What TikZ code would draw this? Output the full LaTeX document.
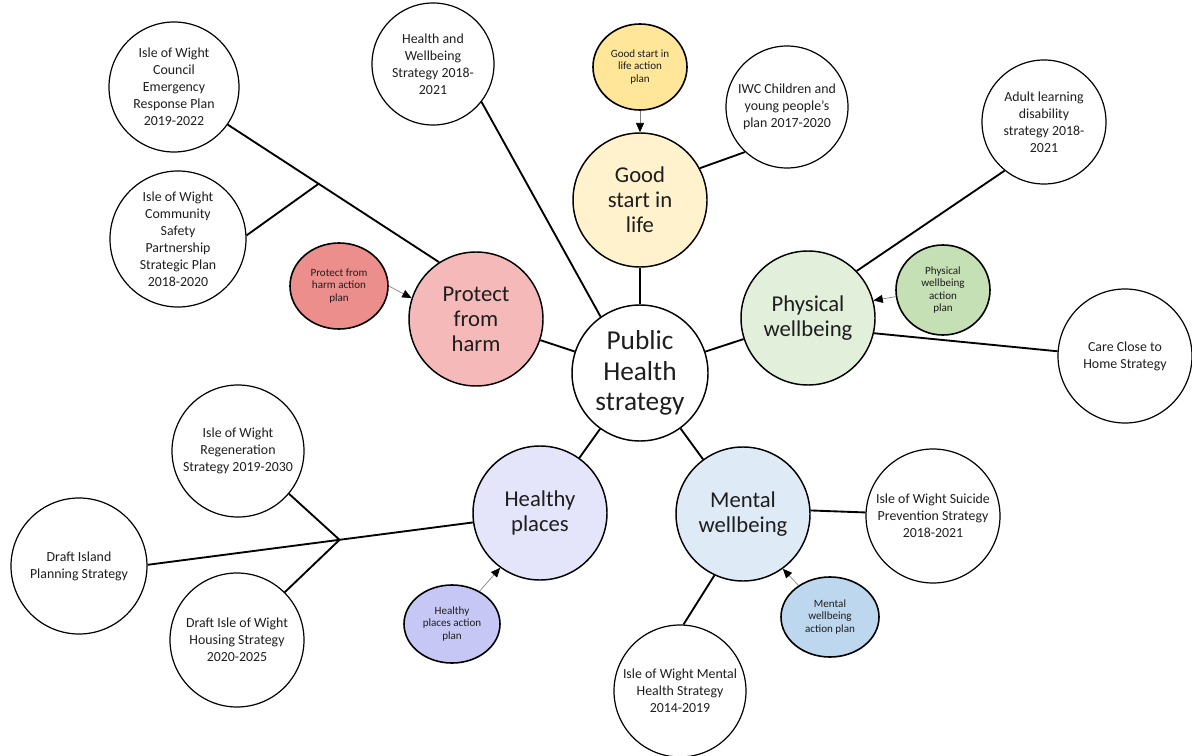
\documentclass[tikz,border=0pt]{standalone}
\usepackage{fontspec}
\setmainfont{Carlito}
\usetikzlibrary{shapes.geometric,arrows.meta,calc}

\definecolor{startfill}{RGB}{255,242,204}
\definecolor{startplan}{RGB}{255,230,153}
\definecolor{harmfill}{RGB}{244,185,184}
\definecolor{harmplan}{RGB}{236,143,140}
\definecolor{physfill}{RGB}{226,239,218}
\definecolor{physplan}{RGB}{197,224,180}
\definecolor{placefill}{RGB}{228,228,251}
\definecolor{placeplan}{RGB}{199,199,245}
\definecolor{mentfill}{RGB}{222,235,247}
\definecolor{mentplan}{RGB}{189,215,238}
\definecolor{inktext}{RGB}{30,30,30}

\begin{document}
\begin{tikzpicture}[x=0.75pt,y=0.75pt,yscale=-1,xscale=1,
  every node/.style={align=center,inner sep=0pt,text=inktext},
  hub/.style={circle,draw,line width=1.1pt,minimum size=102pt,font=\fontsize{20.5}{23}\selectfont},
  theme/.style={circle,draw,line width=1.1pt,minimum size=100.5pt,font=\fontsize{17}{18.8}\selectfont},
  doc/.style={circle,draw,line width=0.9pt,font=\fontsize{10.4}{12.8}\selectfont},
  plan/.style={ellipse,draw,line width=1.2pt,font=\fontsize{8.3}{9.4}\selectfont},
  link/.style={line width=1.4pt},
  feed/.style={draw=gray,line width=0.5pt,-{Triangle[length=7pt,width=6pt,color=black]}}]
\useasboundingbox (0,0) rectangle (1192,756);

% Centre and themes
\node[hub] (phs) at (640,373) {Public\\Health\\strategy};
\node[theme,fill=startfill] (start) at (640,200) {Good\\start in\\life};
\node[theme,fill=harmfill] (harm) at (476,319) {Protect\\from\\harm};
\node[theme,fill=physfill] (phys) at (808,318) {Physical\\wellbeing};
\node[theme,fill=placefill] (places) at (540,513) {Healthy\\places};
\node[theme,fill=mentfill] (mental) at (743,514) {Mental\\wellbeing};

% Action plans
\node[plan,fill=startplan,minimum width=70.5pt,minimum height=64.5pt] (startplan) at (640,67) {Good start in\\life action\\plan};
\node[plan,fill=harmplan,minimum width=73.5pt,minimum height=64.5pt] (harmplan) at (339,286) {Protect from\\harm action\\plan};
\node[plan,fill=physplan,minimum width=70.5pt,minimum height=67.5pt] (physplan) at (943,290) {Physical\\wellbeing\\action\\plan};
\node[plan,fill=placeplan,minimum width=72pt,minimum height=58.5pt] (placeplan) at (452,624) {Healthy\\places action\\plan};
\node[plan,fill=mentplan,minimum width=73.5pt,minimum height=60pt] (mentplan) at (830,617) {Mental\\wellbeing\\action plan};

% Strategies and plans
\node[doc,minimum size=91.5pt] (health) at (433,64) {Health and\\Wellbeing\\Strategy 2018-\\2021};
\node[doc,minimum size=91.5pt] (iwc) at (787,107) {IWC Children and\\young people’s\\plan 2017-2020};
\node[doc,minimum size=93pt] (adult) at (1044,122) {Adult learning\\disability\\strategy 2018-\\2021};
\node[doc,minimum size=100.5pt] (care) at (1125,356) {Care Close to\\Home Strategy};
\node[doc,minimum size=97.5pt] (emergency) at (174,87) {Isle of Wight\\Council\\Emergency\\Response Plan\\2019-2022};
\node[doc,minimum size=102pt] (community) at (178,239) {Isle of Wight\\Community\\Safety\\Partnership\\Strategic Plan\\2018-2020};
\node[doc,minimum size=99pt] (regen) at (238,451) {Isle of Wight\\Regeneration\\Strategy 2019-2030};
\node[doc,minimum size=102pt] (island) at (79,566) {Draft Island\\Planning Strategy};
\node[doc,minimum size=100.5pt] (housing) at (237,640) {Draft Isle of Wight\\Housing Strategy\\2020-2025};
\node[doc,minimum size=100.5pt] (suicide) at (933,516) {Isle of Wight Suicide\\Prevention Strategy\\2018-2021};
\node[doc,minimum size=99pt] (mhs) at (680,691) {Isle of Wight Mental\\Health Strategy\\2014-2019};

% Links
\draw[link] (phs) -- (start);
\draw[link] (start.28) -- (iwc.227);
\draw[link] (health.-38) -- (phs.125);
\draw[link] (harm) -- (phs);
\draw[link] (emergency.-35) -- (harm.123);
\coordinate (harmjoin) at ($(emergency.-35)!0.43!(harm.123)$);
\draw[link] (community.3) -- (harmjoin);
\draw[link] (phs) -- (phys);
\draw[link] (adult.231) -- (phys.44);
\draw[link] (phys.-13) -- (care.176);
\draw[link] (phs) -- (places);
\draw[link] (phs) -- (mental);
\draw[link] (island.1) -- (places.188);
\coordinate (placejoin) at ($(island.1)!0.59!(places.188)$);
\draw[link] (regen.-40) -- (placejoin);
\draw[link] (housing.45) -- (placejoin);
\draw[link] (mental.3) -- (suicide.177);
\draw[link] (mental.245) -- (mhs.87);

% Action plan arrows
\draw[feed] (startplan.south) -- (start.north);
\draw[feed] (harmplan.east) -- (harm.162);
\draw[feed] (physplan.188) -- (phys.15);
\draw[feed] (placeplan.50) -- (places.234);
\draw[feed] (mentplan.135) -- (mental.306);

\end{tikzpicture}
\end{document}
